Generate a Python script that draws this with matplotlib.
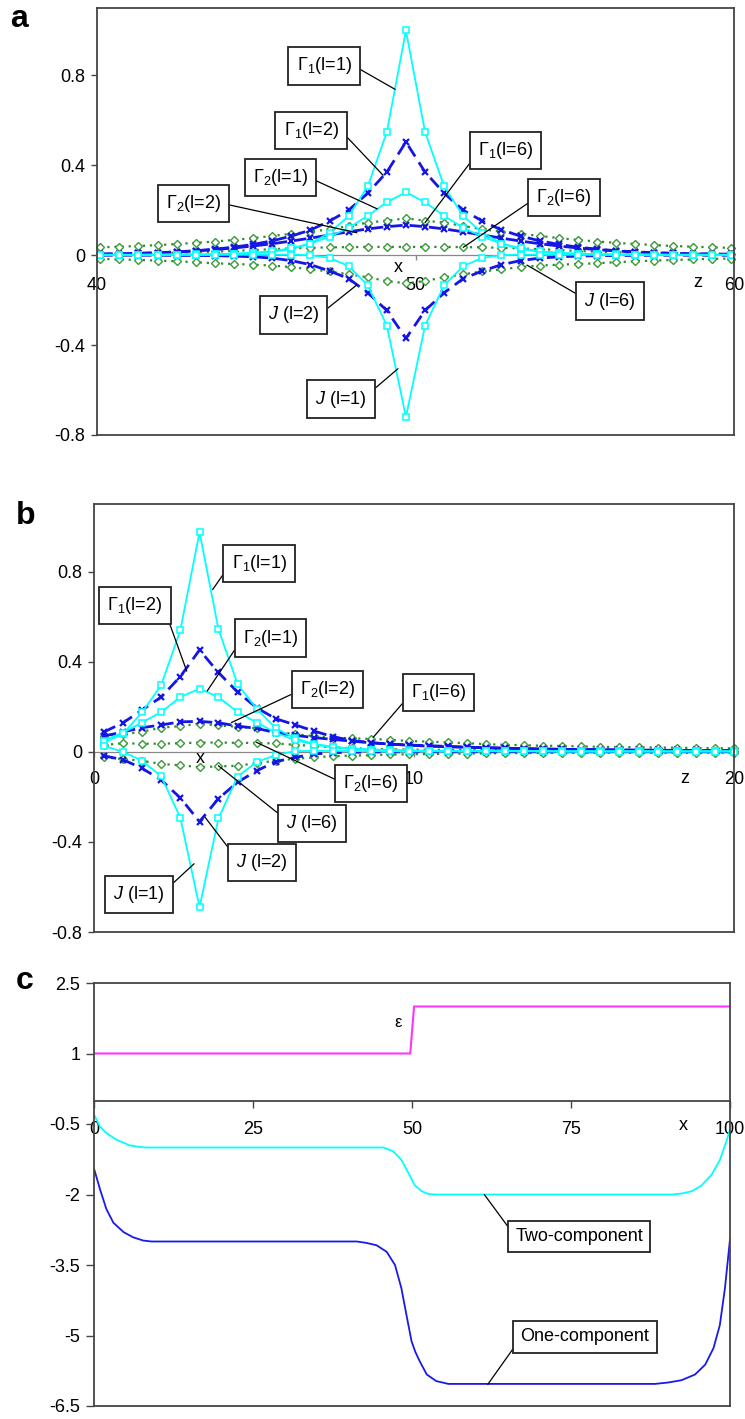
import matplotlib
matplotlib.use('Agg')
import matplotlib.pyplot as plt

plt.rcParams['font.family'] = ['Liberation Sans', 'DejaVu Sans']
plt.rcParams['mathtext.fontset'] = 'custom'
plt.rcParams['mathtext.rm'] = 'Liberation Sans'
plt.rcParams['mathtext.it'] = 'Liberation Sans:italic'
plt.rcParams['mathtext.bf'] = 'Liberation Sans:bold'

# ---------------- Panel a data ----------------
z_a = [40.1, 40.7, 41.3, 41.9, 42.5, 43.1, 43.7, 44.3, 44.9, 45.5, 46.1, 46.7, 47.3, 47.9, 48.5, 49.1, 49.7,
       50.3, 50.9, 51.5, 52.1, 52.7, 53.3, 53.9, 54.5, 55.1, 55.7, 56.3, 56.9, 57.5, 58.1, 58.7, 59.3, 59.9]
g1_l1_a = [0.002, 0.002, 0.002, 0.002, 0.003, 0.003, 0.004, 0.006, 0.009, 0.015, 0.027, 0.052, 0.1, 0.174, 0.306, 0.548, 1.0,
           0.548, 0.306, 0.174, 0.1, 0.052, 0.027, 0.015, 0.009, 0.006, 0.004, 0.003, 0.003, 0.002, 0.002, 0.002, 0.002, 0.002]
g2_l1_a = [0.002, 0.002, 0.002, 0.003, 0.003, 0.004, 0.005, 0.007, 0.011, 0.018, 0.031, 0.052, 0.082, 0.122, 0.175, 0.236, 0.28,
           0.236, 0.175, 0.122, 0.082, 0.052, 0.031, 0.018, 0.011, 0.007, 0.005, 0.004, 0.003, 0.003, 0.002, 0.002, 0.002, 0.002]
j_l1_a = [0.001, 0.001, 0.001, 0.001, 0.001, 0.001, 0.001, 0.002, 0.002, 0.003, 0.003, 0.0, -0.012, -0.048, -0.134, -0.313, -0.72,
          -0.313, -0.134, -0.048, -0.012, 0.0, 0.003, 0.003, 0.002, 0.002, 0.001, 0.001, 0.001, 0.001, 0.001, 0.001, 0.001, 0.001]
g1_l2_a = [0.005, 0.006, 0.008, 0.011, 0.015, 0.02, 0.027, 0.036, 0.048, 0.064, 0.085, 0.112, 0.152, 0.2, 0.276, 0.37, 0.504,
           0.37, 0.276, 0.2, 0.152, 0.112, 0.085, 0.064, 0.048, 0.036, 0.027, 0.02, 0.015, 0.011, 0.008, 0.006, 0.005, 0.004]
g2_l2_a = [0.005, 0.006, 0.008, 0.011, 0.014, 0.019, 0.025, 0.032, 0.041, 0.051, 0.063, 0.076, 0.09, 0.104, 0.117, 0.127, 0.134,
           0.127, 0.117, 0.104, 0.09, 0.076, 0.063, 0.051, 0.041, 0.032, 0.025, 0.019, 0.014, 0.011, 0.008, 0.006, 0.005, 0.004]
j_l2_a = [0.0, 0.0, 0.0, 0.0, -0.001, -0.001, -0.002, -0.004, -0.007, -0.013, -0.024, -0.042, -0.07, -0.104, -0.167, -0.246, -0.37,
          -0.246, -0.167, -0.104, -0.07, -0.042, -0.024, -0.013, -0.007, -0.004, -0.002, -0.001, -0.001, 0.0, 0.0, 0.0, 0.0, 0.0]
g1_l6_a = [0.035, 0.038, 0.041, 0.045, 0.05, 0.055, 0.061, 0.068, 0.076, 0.086, 0.095, 0.105, 0.115, 0.13, 0.145, 0.154, 0.164,
           0.154, 0.145, 0.13, 0.115, 0.105, 0.095, 0.086, 0.076, 0.068, 0.061, 0.055, 0.05, 0.045, 0.041, 0.038, 0.035, 0.033]
g2_l6_a = [0.006, 0.007, 0.008, 0.009, 0.011, 0.013, 0.016, 0.019, 0.023, 0.027, 0.03, 0.033, 0.035, 0.036, 0.037, 0.037, 0.037,
           0.037, 0.037, 0.036, 0.035, 0.033, 0.03, 0.027, 0.023, 0.019, 0.016, 0.013, 0.011, 0.009, 0.008, 0.007, 0.006, 0.006]
j_l6_a = [-0.016, -0.019, -0.021, -0.024, -0.027, -0.031, -0.036, -0.039, -0.042, -0.046, -0.053, -0.063, -0.072, -0.085, -0.098, -0.115, -0.125,
          -0.115, -0.098, -0.085, -0.072, -0.063, -0.053, -0.046, -0.042, -0.039, -0.036, -0.031, -0.027, -0.024, -0.021, -0.019, -0.016, -0.015]

# ---------------- Panel b data ----------------
z_b = [0.30, 0.90, 1.49, 2.09, 2.69, 3.29, 3.88, 4.48, 5.08, 5.67, 6.27, 6.87, 7.46, 8.06, 8.66, 9.26, 9.85,
       10.45, 11.05, 11.64, 12.24, 12.84, 13.43, 14.03, 14.63, 15.22, 15.82, 16.42, 17.02, 17.61, 18.21, 18.81, 19.40, 20.00]
g1_l1_b = [0.04, 0.08, 0.175, 0.295, 0.54, 0.975, 0.545, 0.30, 0.19, 0.105, 0.06, 0.035, 0.022, 0.014, 0.01, 0.008, 0.006,
           0.005, 0.004, 0.004, 0.003, 0.003, 0.003, 0.003, 0.002, 0.002, 0.002, 0.002, 0.002, 0.002, 0.002, 0.002, 0.002, 0.002]
g2_l1_b = [0.05, 0.085, 0.13, 0.176, 0.243, 0.28, 0.243, 0.176, 0.13, 0.085, 0.052, 0.032, 0.02, 0.013, 0.009, 0.007, 0.005,
           0.004, 0.004, 0.003, 0.003, 0.003, 0.003, 0.002, 0.002, 0.002, 0.002, 0.002, 0.002, 0.002, 0.002, 0.002, 0.002, 0.002]
j_l1_b = [0.026, 0.0, -0.04, -0.108, -0.293, -0.69, -0.296, -0.11, -0.045, -0.015, 0.003, 0.004, 0.004, 0.003, 0.003, 0.002, 0.002,
          0.002, 0.002, 0.002, 0.002, 0.002, 0.002, 0.002, 0.001, 0.001, 0.001, 0.001, 0.001, 0.001, 0.001, 0.001, 0.001, 0.001]
g1_l2_b = [0.088, 0.129, 0.185, 0.243, 0.334, 0.452, 0.352, 0.265, 0.195, 0.147, 0.12, 0.092, 0.067, 0.05, 0.04, 0.034, 0.03,
           0.027, 0.024, 0.021, 0.018, 0.016, 0.014, 0.012, 0.011, 0.01, 0.009, 0.008, 0.007, 0.007, 0.006, 0.006, 0.005, 0.005]
g2_l2_b = [0.07, 0.088, 0.107, 0.119, 0.133, 0.135, 0.129, 0.114, 0.104, 0.085, 0.073, 0.063, 0.055, 0.047, 0.04, 0.034, 0.029,
           0.025, 0.022, 0.02, 0.018, 0.016, 0.014, 0.012, 0.011, 0.01, 0.009, 0.008, 0.007, 0.007, 0.006, 0.006, 0.005, 0.005]
j_l2_b = [-0.018, -0.035, -0.073, -0.125, -0.205, -0.31, -0.208, -0.135, -0.084, -0.044, -0.025, -0.01, -0.004, -0.002, -0.001, 0.0, 0.0,
          0.0, 0.0, 0.0, 0.0, 0.0, 0.0, 0.0, 0.0, 0.0, 0.0, 0.0, 0.0, 0.0, 0.0, 0.0, 0.0, 0.0]
g1_l6_b = [0.07, 0.078, 0.089, 0.107, 0.114, 0.125, 0.117, 0.111, 0.104, 0.09, 0.078, 0.07, 0.063, 0.06, 0.057, 0.053, 0.048,
           0.045, 0.042, 0.038, 0.034, 0.031, 0.029, 0.027, 0.026, 0.024, 0.022, 0.021, 0.02, 0.019, 0.018, 0.017, 0.016, 0.015]
g2_l6_b = [0.03, 0.038, 0.036, 0.036, 0.038, 0.041, 0.041, 0.04, 0.039, 0.037, 0.031, 0.026, 0.02, 0.016, 0.013, 0.011, 0.01,
           0.009, 0.008, 0.008, 0.007, 0.007, 0.006, 0.006, 0.006, 0.005, 0.005, 0.005, 0.005, 0.005, 0.005, 0.005, 0.005, 0.005]
j_l6_b = [-0.025, -0.032, -0.04, -0.054, -0.06, -0.068, -0.065, -0.062, -0.05, -0.04, -0.031, -0.025, -0.019, -0.017, -0.015, -0.012, -0.011,
          -0.01, -0.009, -0.008, -0.007, -0.006, -0.006, -0.005, -0.005, -0.004, -0.004, -0.004, -0.004, -0.004, -0.004, -0.004, -0.004, -0.004]

# ---------------- Panel c data ----------------
eps_x = [0, 49.7, 50.3, 100]
eps_y = [1.0, 1.0, 2.0, 2.0]
two_x = [0.0, 0.9, 1.9, 3.5, 5.6, 7.2, 8.2, 45.5, 47.0, 48.3, 49.4, 50.4, 51.5, 52.6, 53.6, 90.8, 92.4, 94.0, 95.5, 97.1, 98.4, 99.4, 100.0]
two_y = [-0.31, -0.555, -0.695, -0.836, -0.956, -0.99, -1.0, -1.0, -1.08, -1.26, -1.54, -1.8, -1.93, -1.99, -2.0, -2.0, -1.98, -1.93, -1.81, -1.58, -1.27, -0.88, -0.62]
one_x = [0.0, 0.9, 1.9, 3.0, 4.6, 6.1, 7.7, 9.0, 41.3, 42.8, 44.4, 46.0, 47.3, 48.3, 49.1, 49.9, 50.5, 51.2, 52.3, 53.8, 55.7, 88.2, 90.3, 92.4, 94.5, 96.1, 97.4, 98.4, 99.2, 100.0]
one_y = [-1.47, -1.89, -2.31, -2.6, -2.8, -2.91, -2.98, -3.0, -3.0, -3.03, -3.08, -3.22, -3.5, -3.99, -4.56, -5.12, -5.35, -5.55, -5.83, -5.97, -6.03, -6.03, -6.0, -5.95, -5.83, -5.62, -5.27, -4.78, -4.0, -2.95]

yt_ab = [-0.8, -0.4, 0, 0.4, 0.8]
yt_ab_lab = ['-0.8', '-0.4', '0', '0.4', '0.8']
yt_c = [-6.5, -5, -3.5, -2, -0.5, 1, 2.5]
yt_c_lab = ['-6.5', '-5', '-3.5', '-2', '-0.5', '1', '2.5']

FS = 13
SPINE = '#444444'
CYAN = '#00FFFF'
BLUE = '#1515E6'
GREEN = '#2E8B2E'

W, H = 745, 1419
fig = plt.figure(figsize=(W / 100, H / 100), dpi=100)


def make_axes(left, right, top, bottom):
    return fig.add_axes([left / W, 1 - bottom / H, (right - left) / W, (bottom - top) / H])


def style_axes(ax, yticks, ylabels):
    for s in ax.spines.values():
        s.set_color(SPINE)
        s.set_linewidth(1.3)
    ax.tick_params(axis='x', bottom=False, labelbottom=False)
    ax.set_yticks(yticks)
    ax.set_yticklabels(ylabels)
    ax.tick_params(axis='y', direction='out', length=4.5, width=1, color=SPINE, pad=4, labelsize=FS)


def zero_axis(ax, ticks, labels, pad, color, lw, ticklen):
    sec = ax.secondary_xaxis(0, transform=ax.transData)
    sec.set_xticks(ticks)
    sec.set_xticklabels(labels)
    sec.tick_params(direction='out', length=ticklen, width=1, color=color, pad=pad, labelsize=FS)
    sec.spines['bottom'].set_color(color)
    sec.spines['bottom'].set_linewidth(lw)
    return sec


def plot_series(ax, z, g1l1, g2l1, jl1, g1l2, g2l2, jl2, g1l6, g2l6, jl6):
    kw6 = dict(color=GREEN, lw=1.6, ls=(0, (1, 2.2)), marker='D', ms=3.6, mfc='white', mec='#3a9a3a', mew=1.0, clip_on=False)
    kw2 = dict(color=BLUE, lw=2.0, ls=(0, (4.5, 2.5)), marker='x', ms=5, mec=BLUE, mew=1.6, clip_on=False)
    kw1 = dict(color=CYAN, lw=1.3, ls='-', marker='s', ms=4, mfc='white', mec=CYAN, mew=1.1, clip_on=False)
    for y in (g1l6, g2l6, jl6):
        ax.plot(z, y, **kw6)
    for y in (g1l2, g2l2, jl2):
        ax.plot(z, y, **kw2)
    for y in (g1l1, g2l1, jl1):
        ax.plot(z, y, **kw1)


def label_box(ax, text, xytext, xy, relpos, fs=FS, pad=0.45):
    ax.annotate(text, xy=xy, xytext=xytext, textcoords='data', ha='center', va='center', fontsize=fs,
                bbox=dict(boxstyle='square,pad=%.2f' % pad, fc='white', ec='#222222', lw=1.3),
                arrowprops=dict(arrowstyle='-', color='black', lw=0.9, relpos=relpos, shrinkA=0, shrinkB=0),
                zorder=10)


# ================= Panel a =================
ax_a = make_axes(97, 734, 8, 435)
ax_a.set_xlim(40, 60)
ax_a.set_ylim(-0.8, 1.1)
style_axes(ax_a, yt_ab, yt_ab_lab)
zero_axis(ax_a, [40, 50, 60], ['40', '50', '60'], 12.5, '#888888', 0.9, 3.5)
plot_series(ax_a, z_a, g1_l1_a, g2_l1_a, j_l1_a, g1_l2_a, g2_l2_a, j_l2_a, g1_l6_a, g2_l6_a, j_l6_a)
ax_a.text(49.45, -0.053, 'x', ha='center', va='center', fontsize=FS)
ax_a.text(58.87, -0.12, 'z', ha='center', va='center', fontsize=FS)

label_box(ax_a, r'$\Gamma_1$(l=1)', (47.13, 0.842), (49.36, 0.738), (1, 0.57))
label_box(ax_a, r'$\Gamma_1$(l=2)', (46.72, 0.556), (48.98, 0.356), (1, 0.6))
label_box(ax_a, r'$\Gamma_2$(l=1)', (45.75, 0.345), (48.8, 0.206), (1, 0.54))
label_box(ax_a, r'$\Gamma_2$(l=2)', (43.03, 0.229), (48.16, 0.1), (1, 0.53))
label_box(ax_a, r'$J$ (l=2)', (46.17, -0.266), (48.16, -0.132), (1, 0.5))
label_box(ax_a, r'$J$ (l=1)', (47.65, -0.64), (49.45, -0.505), (1, 0.66))
label_box(ax_a, r'$\Gamma_1$(l=6)', (52.83, 0.466), (50.3, 0.145), (0, 0.42))
label_box(ax_a, r'$\Gamma_2$(l=6)', (54.66, 0.257), (51.5, 0.035), (0, 0.5))
label_box(ax_a, r'$J$ (l=6)', (56.1, -0.204), (53.5, -0.044), (0, 0.63))

# ================= Panel b =================
ax_b = make_axes(94.3, 734, 504, 932)
ax_b.set_xlim(0, 20)
ax_b.set_ylim(-0.8, 1.1)
style_axes(ax_b, yt_ab, yt_ab_lab)
zero_axis(ax_b, [0, 10, 20], ['0', '10', '20'], 10.5, '#888888', 0.9, 3.5)
plot_series(ax_b, z_b, g1_l1_b, g2_l1_b, j_l1_b, g1_l2_b, g2_l2_b, j_l2_b, g1_l6_b, g2_l6_b, j_l6_b)
ax_b.text(3.3, -0.028, 'x', ha='center', va='center', fontsize=FS)
ax_b.text(18.46, -0.117, 'z', ha='center', va='center', fontsize=FS)

label_box(ax_b, r'$\Gamma_1$(l=1)', (5.15, 0.837), (3.7, 0.72), (0, 0.54))
label_box(ax_b, r'$\Gamma_1$(l=2)', (1.27, 0.651), (2.89, 0.358), (1, 0.57))
label_box(ax_b, r'$\Gamma_2$(l=1)', (5.52, 0.505), (3.53, 0.27), (0, 0.55))
label_box(ax_b, r'$\Gamma_2$(l=2)', (7.28, 0.275), (4.29, 0.13), (0, 0.47))
label_box(ax_b, r'$\Gamma_1$(l=6)', (10.76, 0.262), (8.72, 0.064), (0, 0.46))
label_box(ax_b, r'$\Gamma_2$(l=6)', (8.65, -0.141), (5.07, 0.042), (0, 0.51))
label_box(ax_b, r'$J$ (l=6)', (6.8, -0.32), (3.88, -0.062), (0, 0.7))
label_box(ax_b, r'$J$ (l=2)', (5.24, -0.49), (3.46, -0.29), (0, 0.7))
label_box(ax_b, r'$J$ (l=1)', (1.40, -0.632), (3.12, -0.497), (1, 0.66))

# ================= Panel c =================
ax_c = make_axes(94.3, 730, 983, 1406)
ax_c.set_xlim(0, 100)
ax_c.set_ylim(-6.5, 2.5)
style_axes(ax_c, yt_c, yt_c_lab)
ax_c.tick_params(axis='y', length=6)
zero_axis(ax_c, [0, 25, 50, 75, 100], ['0', '25', '50', '75', '100'], 10, SPINE, 1.3, 5)
ax_c.plot(eps_x, eps_y, color='#FF33FF', lw=1.5)
ax_c.plot(two_x, two_y, color=CYAN, lw=1.3)
ax_c.plot(one_x, one_y, color='#1A1AE6', lw=1.3)
ax_c.text(47.8, 1.66, 'ε', ha='center', va='center', fontsize=12)
ax_c.text(92.65, -0.53, 'x', ha='center', va='center', fontsize=FS)
label_box(ax_c, 'Two-component', (76.3, -2.89), (61.35, -2.0), (0, 0.47), pad=0.4)
label_box(ax_c, 'One-component', (77.2, -5.03), (61.9, -6.04), (0, 0.43), pad=0.4)

# panel letters
fig.text(19 / W, 1 - 19 / H, 'a', fontsize=23, fontweight='bold', ha='center', va='center')
fig.text(26 / W, 1 - 516 / H, 'b', fontsize=23, fontweight='bold', ha='center', va='center')
fig.text(25 / W, 1 - 981 / H, 'c', fontsize=23, fontweight='bold', ha='center', va='center')

fig.savefig('out.png', dpi=100)
